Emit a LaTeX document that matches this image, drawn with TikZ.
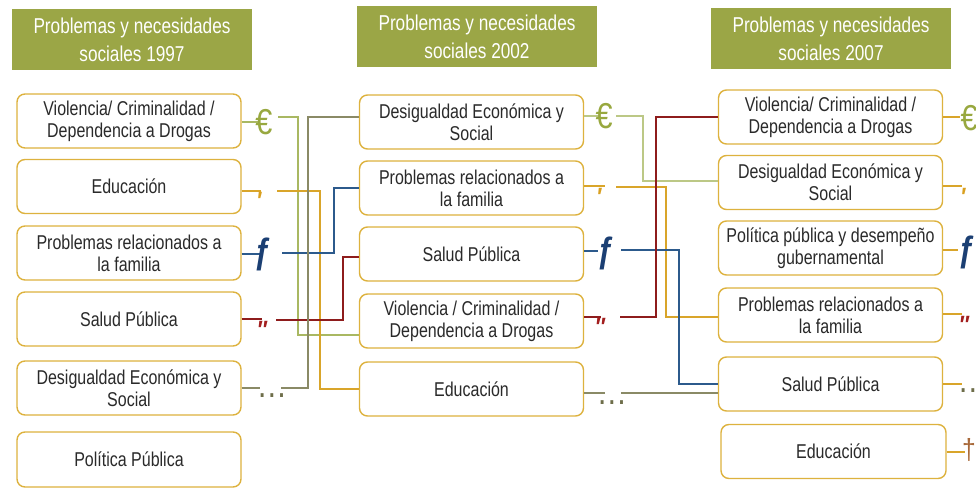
\documentclass[tikz,border=0pt]{standalone}
\usepackage{fontspec}
\setmainfont{Liberation Sans}[FakeStretch=0.8]
\newfontfamily\symfont{Liberation Sans}[FakeStretch=0.85]
\definecolor{titleolive}{HTML}{9BA646}
\definecolor{boxgold}{HTML}{DDB23E}
\definecolor{textgrey}{HTML}{2A2A2A}
\definecolor{cgreen}{HTML}{A9B862}
\definecolor{cgreenlt}{HTML}{BCC886}
\definecolor{cgold}{HTML}{D9A52A}
\definecolor{cblue}{HTML}{2C5A8C}
\definecolor{cred}{HTML}{8E1C1C}
\definecolor{cgrey}{HTML}{8A8A66}
\definecolor{seuro}{HTML}{98A83F}
\definecolor{sgold}{HTML}{D9A020}
\definecolor{sblue}{HTML}{1B3F73}
\definecolor{sred}{HTML}{A31F1F}
\definecolor{sgrey}{HTML}{6E6E4A}
\definecolor{sbrown}{HTML}{A8693A}
\begin{document}
\begin{tikzpicture}[x=1pt,y=-1pt,
  titlebox/.style={fill=titleolive, text=white, minimum width=240pt, minimum height=61pt,
    inner sep=0pt, align=center, font=\fontsize{21.5}{28}\selectfont},
  item/.style={draw=boxgold, line width=1.4pt, rounded corners=8pt, fill=white,
    minimum width=224pt, minimum height=54pt, inner sep=0pt, align=center,
    text=textgrey, font=\fontsize{20}{22}\selectfont},
  link/.style={line width=1.5pt},
  symb/.style={inner sep=0pt, font=\symfont\fontsize{36}{36}\selectfont},
  symf/.style={inner sep=0pt, font=\symfont\bfseries\fontsize{36}{36}\selectfont},
  symp/.style={inner sep=0pt, font=\symfont\bfseries\fontsize{25}{25}\selectfont},
  symd/.style={inner sep=0pt, font=\symfont\fontsize{36}{36}\selectfont},
  symt/.style={inner sep=0pt, font=\symfont\fontsize{29}{29}\selectfont}]
\useasboundingbox (0,0) rectangle (976,487);

% titles
\node[titlebox] (t1) at (132,39.5) {Problemas y necesidades\\sociales 1997};
\node[titlebox] (t2) at (477,36.5) {Problemas y necesidades\\sociales 2002};
\node[titlebox] (t3) at (831,38.5) {Problemas y necesidades\\sociales 2007};

% column 1
\node[item] (a1) at (129,121) {Violencia/ Criminalidad /\\Dependencia a Drogas};
\node[item] (a2) at (129,186.5) {Educación};
\node[item] (a3) at (129,253) {Problemas relacionados a\\la familia};
\node[item] (a4) at (129,319) {Salud Pública};
\node[item] (a5) at (129,388) {Desigualdad Económica y\\Social};
\node[item, minimum height=55pt] (a6) at (129,459.5) {Política Pública};

% column 2
\node[item] (b1) at (471.5,122) {Desigualdad Económica y\\Social};
\node[item] (b2) at (471.5,188) {Problemas relacionados a\\la familia};
\node[item] (b3) at (471.5,254) {Salud Pública};
\node[item] (b4) at (471.5,321) {Violencia / Criminalidad /\\Dependencia a Drogas};
\node[item] (b5) at (471.5,389) {Educación};

% column 3
\node[item] (c1) at (830.5,117) {Violencia/ Criminalidad /\\Dependencia a Drogas};
\node[item] (c2) at (830.5,182.5) {Desigualdad Económica y\\Social};
\node[item] (c3) at (830.5,248) {Política pública y desempeño\\gubernamental};
\node[item] (c4) at (830.5,315) {Problemas relacionados a\\la familia};
\node[item] (c5) at (830.5,384) {Salud Pública};
\node[item, minimum width=225pt] (c6) at (833.5,451.5) {Educación};

% stub ends
\coordinate (sa1) at (258,122);
\coordinate (sa2) at (261,191);
\coordinate (sa3) at (262,254);
\coordinate (sa4) at (262,319);
\coordinate (sa5) at (260,388);
\coordinate (sb1) at (600,116);
\coordinate (sb2) at (605,186);
\coordinate (sb3) at (598,251);
\coordinate (sb4) at (601,317);
\coordinate (sb5) at (605,393);
\coordinate (sc1) at (960,117);
\coordinate (sc2) at (962,186);
\coordinate (sc3) at (958,250);
\coordinate (sc4) at (962,314);
\coordinate (sc5) at (962,384);
\coordinate (sc6) at (965,452);

% stubs
\draw[link,cgreen] (a1.east |- sa1) -- (sa1);
\draw[link,cgold] (a2.east |- sa2) -- (sa2);
\draw[link,cblue] (a3.east |- sa3) -- (sa3);
\draw[link,cred] (a4.east |- sa4) -- (sa4);
\draw[link,cgrey] (a5.east |- sa5) -- (sa5);
\draw[link,cgreenlt] (b1.east |- sb1) -- (sb1);
\draw[link,cgold] (b2.east |- sb2) -- (sb2);
\draw[link,cblue] (b3.east |- sb3) -- (sb3);
\draw[link,cred] (b4.east |- sb4) -- (sb4);
\draw[link,cgrey] (b5.east |- sb5) -- (sb5);
\draw[link,cgold] (c1.east |- sc1) -- (sc1);
\draw[link,cgold] (c2.east |- sc2) -- (sc2);
\draw[link,cgold] (c3.east |- sc3) -- (sc3);
\draw[link,cgold] (c4.east |- sc4) -- (sc4);
\draw[link,cgold] (c5.east |- sc5) -- (sc5);
\draw[link,cgold] (c6.east |- sc6) -- (sc6);

% symbols
\node[symb,text=seuro] (ea) at (264,122) {€};
\node[symp,text=sgold] (pa) at (260,201) {′};
\node[symf,text=sblue] (fa) at (263,254) {ƒ};
\node[symp,text=sred] (da) at (263,330) {″};
\node[symd,text=sgrey] (la) at (272,396) {…};
\node[symb,text=seuro] (eb) at (604,116) {€};
\node[symp,text=sgold] (pb) at (600,197) {′};
\node[symf,text=sblue] (fb) at (606,253) {ƒ};
\node[symp,text=sred] (db) at (601,327) {″};
\node[symd,text=sgrey] (lb) at (612,403) {…};
\node[symb,text=seuro] (ec) at (969,118) {€};
\node[symp,text=sgold] (pc) at (964,197) {′};
\node[symf,text=sblue] (fc) at (967,252) {ƒ};
\node[symp,text=sred] (dc) at (965,325) {″};
\node[symd,text=sgrey] (lc) at (973,391) {…};
\node[symt,text=sbrown] (xc) at (969,450) {†};

% connectors column 1 -> column 2
\coordinate (k1) at (278,117); \coordinate (m1) at (298,335);
\coordinate (k2) at (277,191); \coordinate (m2) at (320,389);
\coordinate (k3) at (282,253); \coordinate (m3) at (334,188);
\coordinate (k4) at (276,320); \coordinate (m4) at (343,257);
\coordinate (k5) at (281,388); \coordinate (m5) at (308,117);
\draw[link,cgreen] (k1) -| (m1) -- (b4.west |- m1);
\draw[link,cgold] (k2) -| (m2) -- (b5.west |- m2);
\draw[link,cblue] (k3) -| (m3) -- (b2.west |- m3);
\draw[link,cred] (k4) -| (m4) -- (b3.west |- m4);
\draw[link,cgrey] (k5) -| (m5) -- (b1.west |- m5);

% connectors column 2 -> column 3
\coordinate (n1) at (616,116); \coordinate (p1) at (643,181);
\coordinate (n2) at (616,187); \coordinate (p2) at (666,317);
\coordinate (n3) at (621,250); \coordinate (p3) at (679,384);
\coordinate (n4) at (620,317); \coordinate (p4) at (656,117);
\coordinate (n5) at (621,393);
\draw[link,cgreenlt] (n1) -| (p1) -- (c2.west |- p1);
\draw[link,cgold] (n2) -| (p2) -- (c4.west |- p2);
\draw[link,cblue] (n3) -| (p3) -- (c5.west |- p3);
\draw[link,cred] (n4) -| (p4) -- (c1.west |- p4);
\draw[link,cgrey] (n5) -- (c5.west |- n5);
\end{tikzpicture}
\end{document}
